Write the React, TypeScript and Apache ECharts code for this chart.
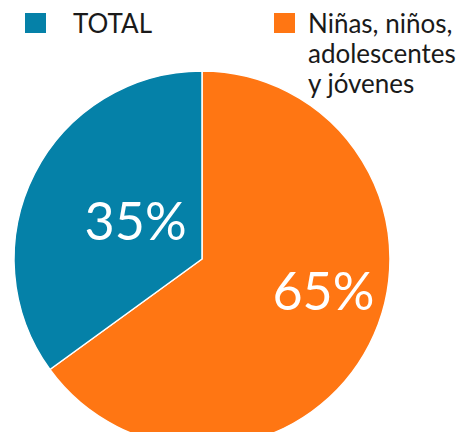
import React, { useEffect, useRef } from "react";
import * as echarts from "echarts";

const categories = ["TOTAL", "Niñas, niños, adolescentes y jóvenes"];
const legendLines = [["TOTAL"], ["Niñas, niños,", "adolescentes", "y jóvenes"]];
const values = [35, 65];
const colors = ["#0581A8", "#FF7613"];

export default function App() {
  const ref = useRef<HTMLDivElement>(null);
  useEffect(() => {
    if (!ref.current) return;
    const chart = echarts.init(ref.current, undefined, { renderer: "svg" });
    const font = "Lato, 'Open Sans', sans-serif";
    // orange drawn first (clockwise from top), then blue
    const order = [1, 0];
    const labelOffsets: Record<number, number[]> = { 0: [20, 5], 1: [35, -13] };
    const data = order.map((i) => ({
      name: categories[i],
      value: values[i],
      itemStyle: { color: colors[i] },
      label: { offset: labelOffsets[i] },
    }));
    const legendX = [25, 274];
    const textX = [73, 308];
    const graphic: any[] = [];
    categories.forEach((c, i) => {
      graphic.push({
        type: "rect",
        shape: { x: legendX[i], y: 13, width: 21, height: 20 },
        style: { fill: colors[i] },
      });
      graphic.push({
        type: "text",
        x: textX[i],
        y: 8,
        style: {
          text: legendLines[i].join("\n"),
          font: `26px ${font}`,
          fill: "#1a1a1a",
          lineHeight: 30,
          verticalAlign: "top",
        },
      });
    });
    chart.setOption({
      animation: false,
      graphic,
      series: [
        {
          type: "pie",
          center: [202, 259],
          radius: 188,
          startAngle: 90,
          clockwise: true,
          avoidLabelOverlap: false,
          itemStyle: { borderColor: "#ffffff", borderWidth: 1.5 },
          label: {
            show: true,
            position: "inside",
            formatter: "{c}%",
            color: "#ffffff",
            fontSize: 52,
            fontFamily: font,
          },
          labelLine: { show: false },
          emphasis: { disabled: true },
          data,
        },
      ],
    });
    return () => chart.dispose();
  }, []);
  return (
    <div
      ref={ref}
      style={{ position: "absolute", left: 0, top: 0, width: 467, height: 432 }}
    />
  );
}
